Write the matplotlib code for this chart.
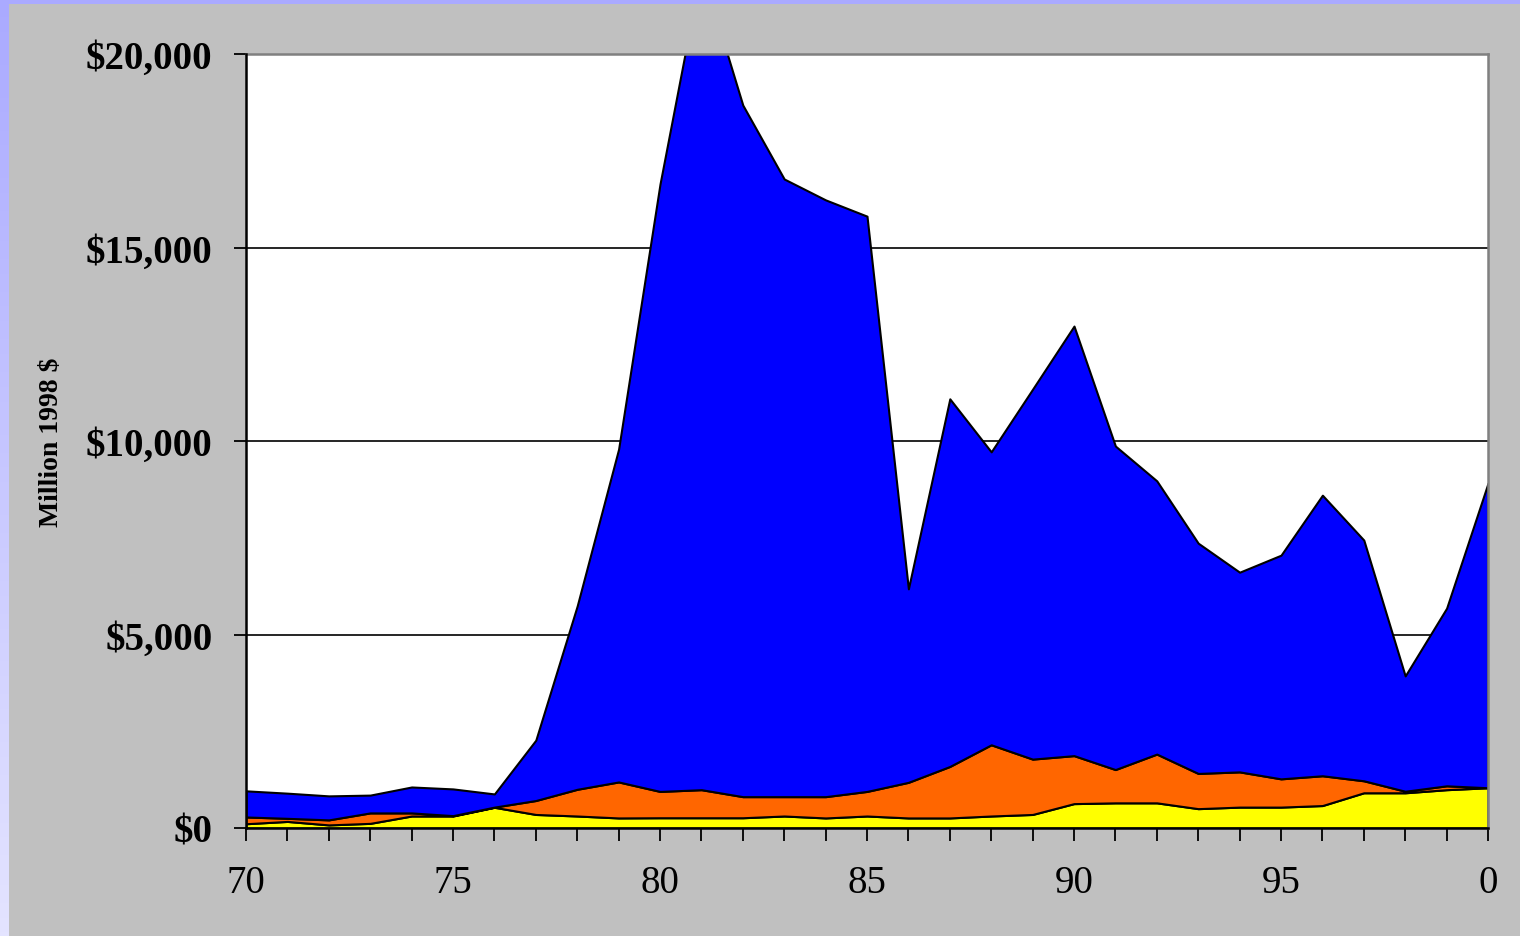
import matplotlib.pyplot as plt
import numpy as np

years = np.arange(1970, 2001)

# values in million 1998 $ (cumulative tops per layer)
yellow = [110, 170, 80, 120, 310, 310, 535, 350, 310, 260,
          265, 265, 265, 310, 260, 310, 260, 260, 310, 350,
          630, 650, 650, 500, 540, 540, 580, 910, 910, 990, 1040]
orange_top = [285, 250, 210, 390, 390, 320, 540, 710, 1000, 1190,
              945, 990, 810, 810, 810, 945, 1180, 1590, 2150, 1780,
              1870, 1510, 1910, 1410, 1450, 1270, 1350, 1220, 950, 1090, 1040]
total = [960, 900, 830, 850, 1060, 1010, 880, 2270, 5740, 9790,
         16640, 22200, 18680, 16770, 16230, 15810, 6180, 11090, 9720, 11340,
         12970, 9870, 8970, 7360, 6610, 7050, 8600, 7440, 3930, 5680, 8910]

yellow = np.array(yellow)
orange = np.array(orange_top) - yellow
blue = np.array(total) - np.array(orange_top)

fig = plt.figure(figsize=(15.2, 9.37), dpi=100)
fig.patch.set_facecolor("#C0C0C0")

# lavender border: top strip and gradient strip on the left
bg = fig.add_axes([0, 0, 1, 1], zorder=-1)
bg.set_axis_off()
bg.set_xlim(0, 1520)
bg.set_ylim(937, 0)
bg.add_patch(plt.Rectangle((0, 0), 1520, 5, color="#AAAAFF", lw=0))
grad = np.linspace(0, 1, 256).reshape(-1, 1)
top_c = np.array([0xAA, 0xAA, 0xFF]) / 255
bot_c = np.array([0xE4, 0xE4, 0xFF]) / 255
img = top_c + grad[..., None] * (bot_c - top_c)
bg.imshow(img, extent=(0, 9, 937, 0), aspect="auto")

ax = fig.add_axes([246 / 1520, (937 - 829) / 937, (1488 - 246) / 1520, (829 - 55) / 937])
ax.set_facecolor("white")

ax.stackplot(years, yellow, orange, blue,
             colors=["#FFFF00", "#FF6600", "#0000FF"],
             edgecolor="black", linewidth=1.5, zorder=2)

ax.set_xlim(1970, 2000)
ax.set_ylim(0, 20000)
ax.set_yticks([0, 5000, 10000, 15000, 20000])
ax.set_yticklabels(["$0", "$5,000", "$10,000", "$15,000", "$20,000"],
                   fontfamily="Liberation Serif", fontweight="bold", fontsize=28)
ax.set_xticks(years)
ax.set_xticklabels([str(y % 100) if y % 5 == 0 else "" for y in years],
                   fontfamily="Liberation Serif", fontsize=28)
ax.tick_params(axis="y", length=9, width=1.3, color="black", pad=15)
ax.tick_params(axis="x", length=9, width=1.3, color="black", pad=17)

ax.yaxis.grid(True, color="black", linewidth=1.2, zorder=1)
ax.set_axisbelow(True)

for s in ["left", "bottom"]:
    ax.spines[s].set_color("black")
    ax.spines[s].set_linewidth(1.8)
    ax.spines[s].set_zorder(5)
for s in ["top", "right"]:
    ax.spines[s].set_color("#808080")
    ax.spines[s].set_linewidth(1.8)

fig.text(52 / 1520, 1 - 442 / 937, "Million 1998 $", rotation=90,
         fontfamily="Liberation Serif", fontweight="bold", fontsize=20,
         ha="center", va="center")

fig.savefig("out.png", dpi=100, facecolor=fig.get_facecolor())
